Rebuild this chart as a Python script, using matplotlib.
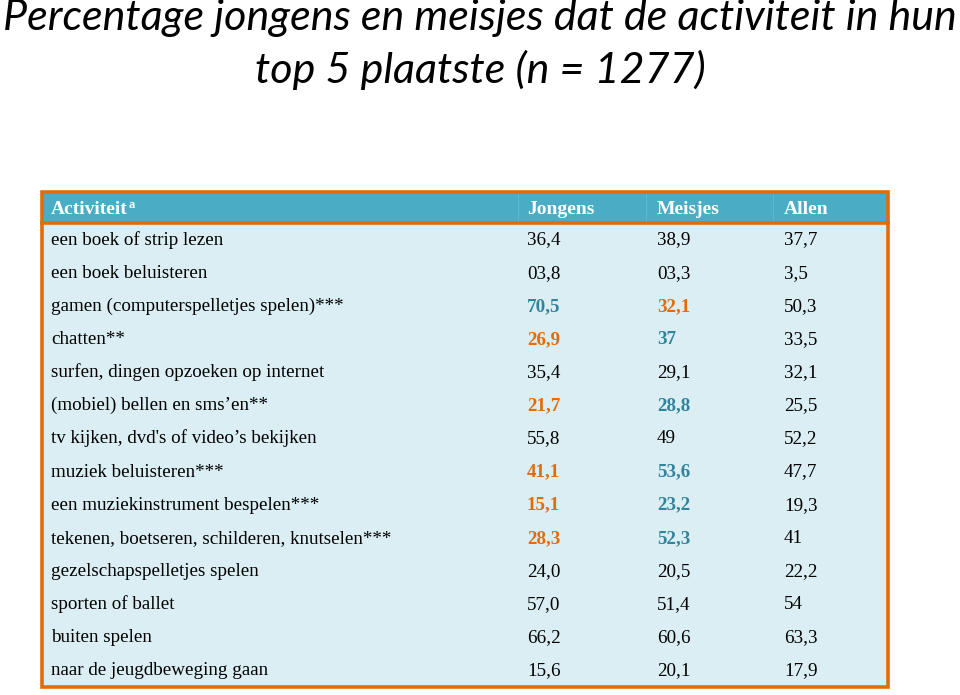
import matplotlib
matplotlib.use("Agg")
import matplotlib.pyplot as plt
from matplotlib.patches import Rectangle

title_lines = ["Percentage jongens en meisjes dat de activiteit in hun",
               "top 5 plaatste (n = 1277)"]
columns = ["Activiteit", "Jongens", "Meisjes", "Allen"]
activities = [
    "een boek of strip lezen",
    "een boek beluisteren",
    "gamen (computerspelletjes spelen)***",
    "chatten**",
    "surfen, dingen opzoeken op internet",
    "(mobiel) bellen en sms\u2019en**",
    "tv kijken, dvd's of video\u2019s bekijken",
    "muziek beluisteren***",
    "een muziekinstrument bespelen***",
    "tekenen, boetseren, schilderen, knutselen***",
    "gezelschapspelletjes spelen",
    "sporten of ballet",
    "buiten spelen",
    "naar de jeugdbeweging gaan",
]
jongens = ["36,4", "03,8", "70,5", "26,9", "35,4", "21,7", "55,8", "41,1",
           "15,1", "28,3", "24,0", "57,0", "66,2", "15,6"]
meisjes = ["38,9", "03,3", "32,1", "37", "29,1", "28,8", "49", "53,6",
           "23,2", "52,3", "20,5", "51,4", "60,6", "20,1"]
allen = ["37,7", "3,5", "50,3", "33,5", "32,1", "25,5", "52,2", "47,7",
         "19,3", "41", "22,2", "54", "63,3", "17,9"]

ORANGE = "#E36C0A"
HEADER = "#4BACC6"
BODY = "#DAEEF3"
TEAL_TXT = "#31849B"
ORANGE_TXT = "#E36C09"

fig = plt.figure(figsize=(9.6, 6.95), dpi=100)
ax = fig.add_axes([0, 0, 1, 1])
ax.set_xlim(0, 960)
ax.set_ylim(695, 0)
ax.axis("off")

# title
for i, line in enumerate(title_lines):
    ax.text(480, 30 + i * 53, line, ha="center", va="baseline",
            fontsize=31, style="italic", family="Lato", color="black")

# table geometry
left, right = 42, 888
top, header_bottom, bottom = 192, 223, 687
n = len(activities)
row_h = (bottom - header_bottom) / n
col_x = [51, 527, 657, 784]
sep_x = [518, 646, 773]

ax.add_patch(Rectangle((left, header_bottom), right - left, bottom - header_bottom,
                       facecolor=BODY, edgecolor="none", zorder=1))
ax.add_patch(Rectangle((left, top), right - left, header_bottom - top,
                       facecolor=HEADER, edgecolor="none", zorder=1))
for sx in sep_x:
    ax.plot([sx, sx], [top, header_bottom], color="#62BBD0", lw=0.6, zorder=2)
for i in range(1, n):
    yy = header_bottom + i * row_h
    ax.plot([left, right], [yy, yy], color="#E0F1F6", lw=0.5, zorder=2)
ax.add_patch(Rectangle((left, top), right - left, bottom - top,
                       facecolor="none", edgecolor=ORANGE, lw=2.6, zorder=3))
ax.plot([left, right], [header_bottom, header_bottom], color=ORANGE, lw=2.6, zorder=3)

serif = "Liberation Serif"
fs = 13.7
hy = (top + header_bottom) / 2 + 6
t = ax.text(col_x[0], hy, columns[0], ha="left", va="baseline", fontsize=14,
            family=serif, weight="bold", color="white", zorder=4)
fig.canvas.draw()
bb = t.get_window_extent()
ax.text(col_x[0] + bb.width + 1, hy - 6, "a", ha="left", va="baseline", fontsize=9,
        family=serif, weight="bold", color="white", zorder=4)
for cx, name in zip(col_x[1:], columns[1:]):
    ax.text(cx, hy, name, ha="left", va="baseline", fontsize=14, family=serif,
            weight="bold", color="white", zorder=4)

def to_num(s):
    return float(s.replace(",", "."))

for i, (act, j, m, a) in enumerate(zip(activities, jongens, meisjes, allen)):
    y = header_bottom + (i + 0.5) * row_h + 5
    ax.text(col_x[0], y, act, ha="left", va="baseline", fontsize=fs, family=serif,
            color="black", zorder=4)
    signif = "*" in act
    cj = cm = "black"
    wj = wm = "normal"
    if signif:
        if to_num(j) > to_num(m):
            cj, cm = TEAL_TXT, ORANGE_TXT
        else:
            cj, cm = ORANGE_TXT, TEAL_TXT
        wj = wm = "bold"
    ax.text(col_x[1], y, j, ha="left", va="baseline", fontsize=fs, family=serif,
            color=cj, weight=wj, zorder=4)
    ax.text(col_x[2], y, m, ha="left", va="baseline", fontsize=fs, family=serif,
            color=cm, weight=wm, zorder=4)
    ax.text(col_x[3], y, a, ha="left", va="baseline", fontsize=fs, family=serif,
            color="black", zorder=4)

fig.savefig("out.png", dpi=100)
